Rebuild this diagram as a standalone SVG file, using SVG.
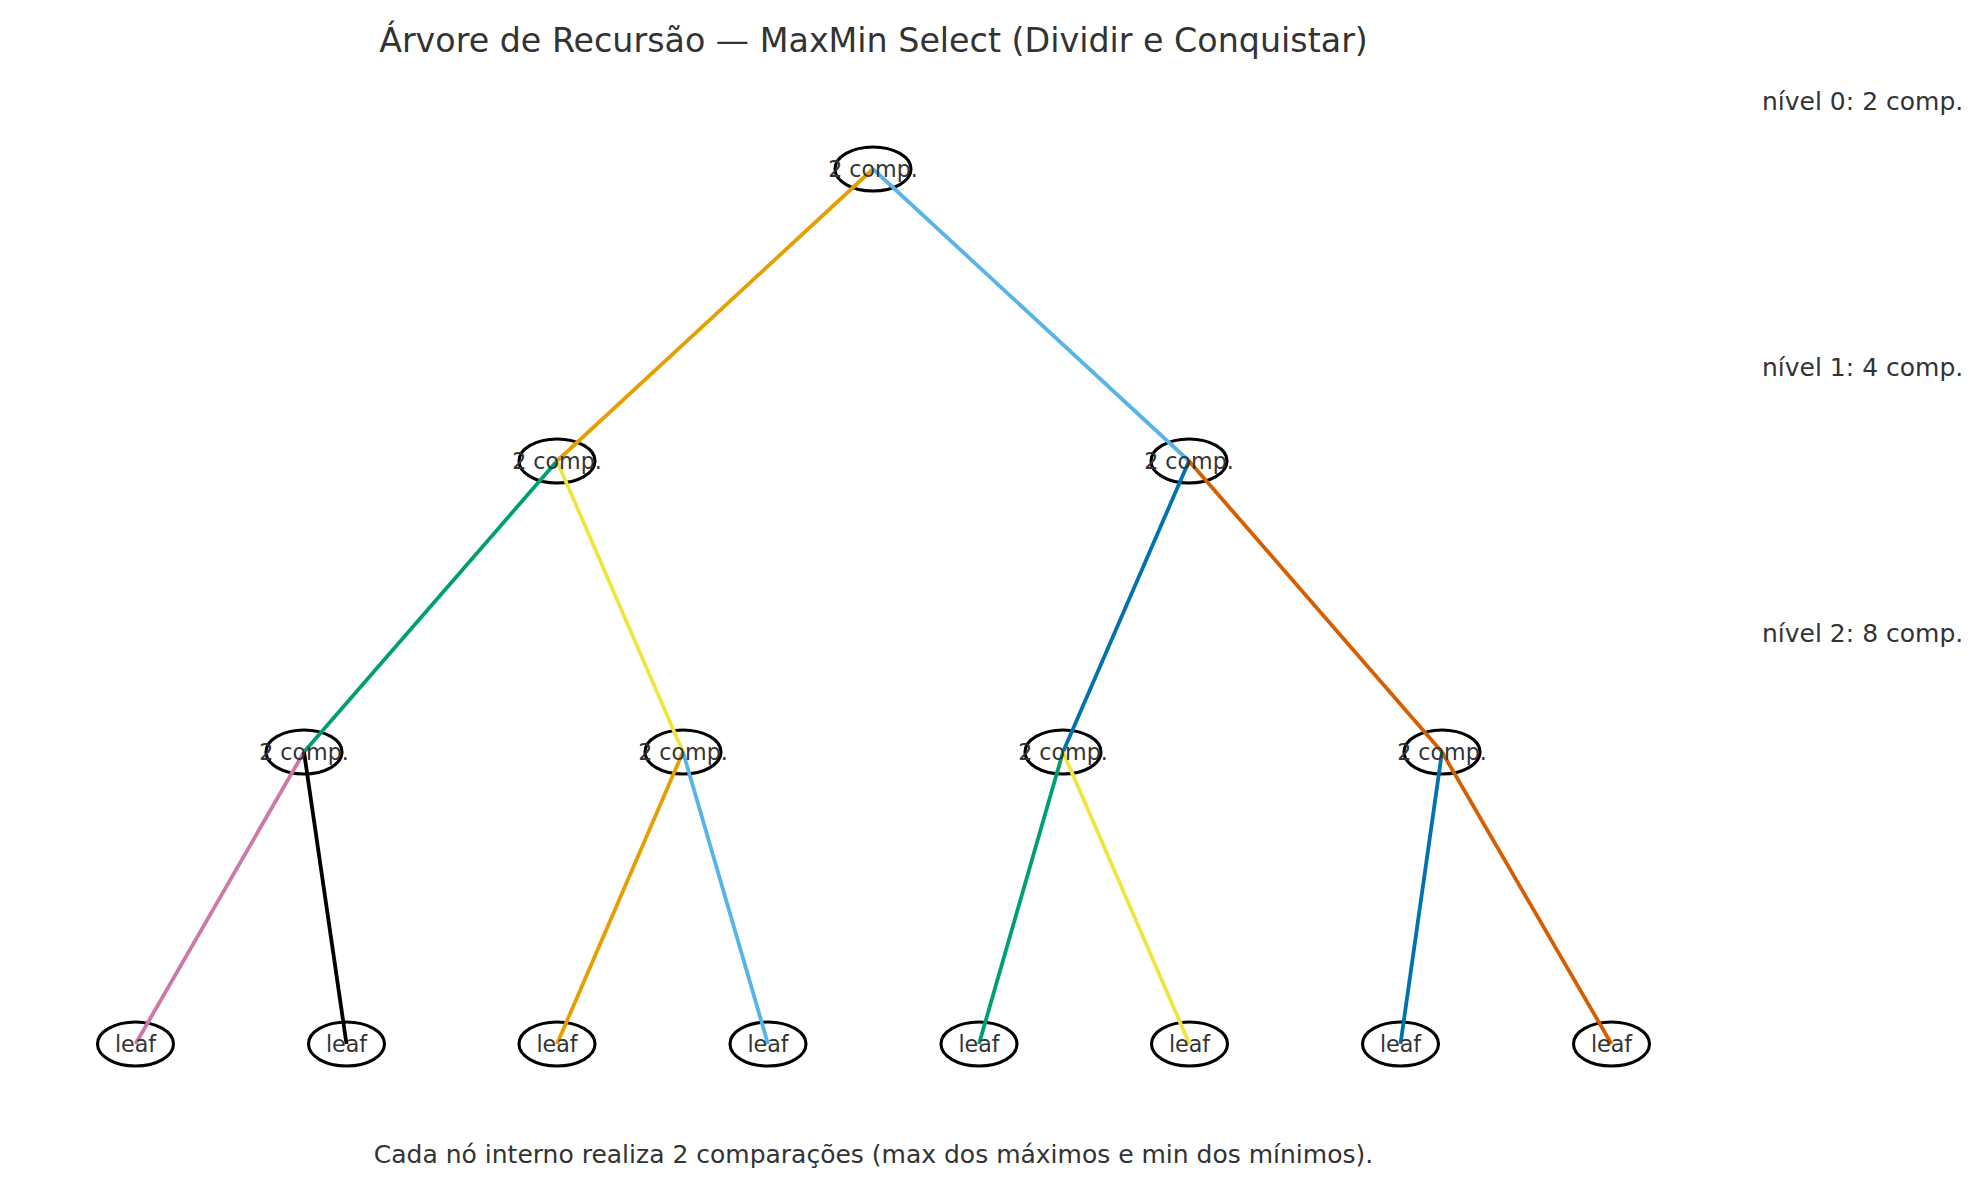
<svg xmlns="http://www.w3.org/2000/svg" width="1983" height="1188" viewBox="0 0 1983 1188">
<style>
  .node ellipse { fill: none; stroke: #000; stroke-width: 3.1; }
  .node text { font-family: "DejaVu Sans", sans-serif; font-size: 22.2px; fill: #333; text-anchor: middle; }
  .edges line { stroke-width: 3.8; stroke-linecap: butt; }
  .lvl { font-family: "DejaVu Sans", sans-serif; font-size: 25px; fill: #333; }
  .title { font-family: "DejaVu Sans", sans-serif; font-size: 33.3px; fill: #333; text-anchor: middle; }
  .foot { font-family: "DejaVu Sans", sans-serif; font-size: 25px; fill: #333; text-anchor: middle; }
</style>
<rect width="1983" height="1188" fill="#fff"/>

<g id="nodes-shapes">
  <g class="node"><ellipse cx="873" cy="169" rx="38" ry="22"/></g>
  <g class="node"><ellipse cx="557" cy="461" rx="38" ry="22"/></g>
  <g class="node"><ellipse cx="1189" cy="461" rx="38" ry="22"/></g>
  <g class="node"><ellipse cx="304" cy="752" rx="38" ry="22"/></g>
  <g class="node"><ellipse cx="683" cy="752" rx="38" ry="22"/></g>
  <g class="node"><ellipse cx="1063" cy="752" rx="38" ry="22"/></g>
  <g class="node"><ellipse cx="1442" cy="752" rx="38" ry="22"/></g>
  <g class="node"><ellipse cx="135.5" cy="1044" rx="38" ry="22"/></g>
  <g class="node"><ellipse cx="346.5" cy="1044" rx="38" ry="22"/></g>
  <g class="node"><ellipse cx="557" cy="1044" rx="38" ry="22"/></g>
  <g class="node"><ellipse cx="768" cy="1044" rx="38" ry="22"/></g>
  <g class="node"><ellipse cx="979" cy="1044" rx="38" ry="22"/></g>
  <g class="node"><ellipse cx="1189.5" cy="1044" rx="38" ry="22"/></g>
  <g class="node"><ellipse cx="1400.5" cy="1044" rx="38" ry="22"/></g>
  <g class="node"><ellipse cx="1611.5" cy="1044" rx="38" ry="22"/></g>
</g>

<g id="connectors" class="edges">
  <line x1="873" y1="169" x2="557" y2="461" stroke="#E69F00"/>
  <line x1="873" y1="169" x2="1189" y2="461" stroke="#56B4E9"/>
  <line x1="557" y1="461" x2="304" y2="752" stroke="#009E73"/>
  <line x1="557" y1="461" x2="683" y2="752" stroke="#F0E442"/>
  <line x1="1189" y1="461" x2="1063" y2="752" stroke="#0072B2"/>
  <line x1="1189" y1="461" x2="1442" y2="752" stroke="#D55E00"/>
  <line x1="304" y1="752" x2="135.5" y2="1044" stroke="#CC79A7"/>
  <line x1="304" y1="752" x2="346.5" y2="1044" stroke="#000000"/>
  <line x1="683" y1="752" x2="557" y2="1044" stroke="#E69F00"/>
  <line x1="683" y1="752" x2="768" y2="1044" stroke="#56B4E9"/>
  <line x1="1063" y1="752" x2="979" y2="1044" stroke="#009E73"/>
  <line x1="1063" y1="752" x2="1189.5" y2="1044" stroke="#F0E442"/>
  <line x1="1442" y1="752" x2="1400.5" y2="1044" stroke="#0072B2"/>
  <line x1="1442" y1="752" x2="1611.5" y2="1044" stroke="#D55E00"/>
</g>

<g id="node-labels">
  <g id="n0" class="node"><text x="873" y="177">2 comp.</text></g>
  <g id="n1" class="node"><text x="557" y="469">2 comp.</text></g>
  <g id="n2" class="node"><text x="1189" y="469">2 comp.</text></g>
  <g id="n3" class="node"><text x="304" y="760">2 comp.</text></g>
  <g id="n4" class="node"><text x="683" y="760">2 comp.</text></g>
  <g id="n5" class="node"><text x="1063" y="760">2 comp.</text></g>
  <g id="n6" class="node"><text x="1442" y="760">2 comp.</text></g>
  <g id="l0" class="node"><text x="135.5" y="1052">leaf</text></g>
  <g id="l1" class="node"><text x="346.5" y="1052">leaf</text></g>
  <g id="l2" class="node"><text x="557" y="1052">leaf</text></g>
  <g id="l3" class="node"><text x="768" y="1052">leaf</text></g>
  <g id="l4" class="node"><text x="979" y="1052">leaf</text></g>
  <g id="l5" class="node"><text x="1189.5" y="1052">leaf</text></g>
  <g id="l6" class="node"><text x="1400.5" y="1052">leaf</text></g>
  <g id="l7" class="node"><text x="1611.5" y="1052">leaf</text></g>
</g>

<text class="title" x="873.5" y="52">Árvore de Recursão — MaxMin Select (Dividir e Conquistar)</text>
<text class="lvl" x="1762" y="110">nível 0: 2 comp.</text>
<text class="lvl" x="1762" y="376">nível 1: 4 comp.</text>
<text class="lvl" x="1762" y="642">nível 2: 8 comp.</text>
<text class="foot" x="873.5" y="1163">Cada nó interno realiza 2 comparações (max dos máximos e min dos mínimos).</text>
</svg>
